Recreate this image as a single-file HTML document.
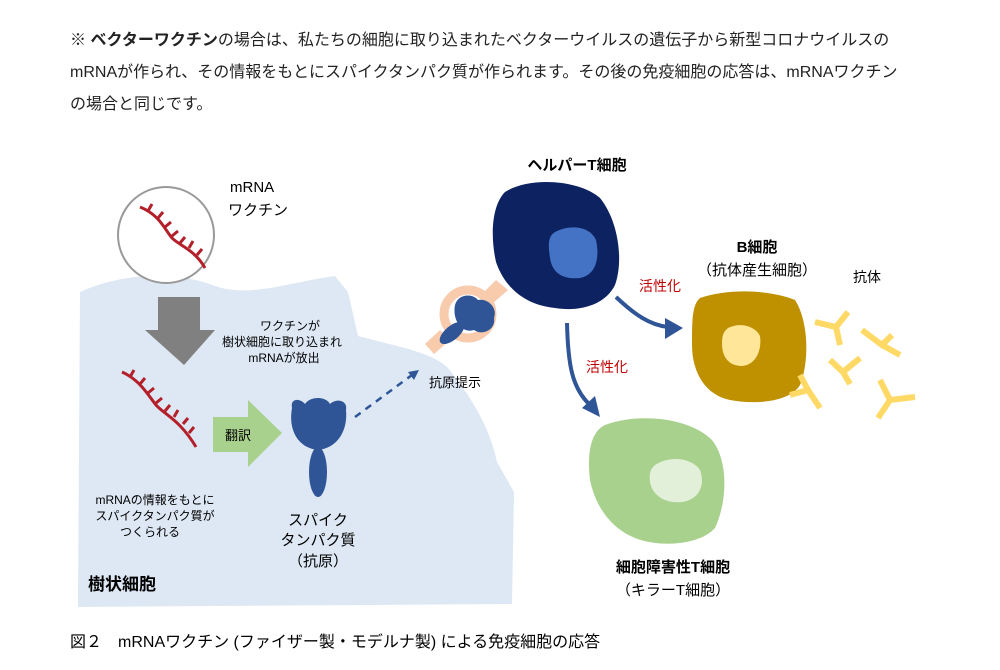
<!DOCTYPE html>
<html><head><meta charset="utf-8"><style>
body{margin:0;width:1000px;height:670px;background:#fff;position:relative;overflow:hidden;font-family:"Liberation Sans","Noto Sans CJK JP",sans-serif;color:#222}
.t{position:absolute;left:70px;font-size:16px;white-space:nowrap}
svg{position:absolute;left:0;top:0}
</style></head><body>
<div class="t" style="top:26px">※ <b>ベクターワクチン</b>の場合は、私たちの細胞に取り込まれたベクターウイルスの遺伝子から新型コロナウイルスの</div>
<div class="t" style="top:58px">mRNAが作られ、その情報をもとにスパイクタンパク質が作られます。その後の免疫細胞の応答は、mRNAワクチン</div>
<div class="t" style="top:90px">の場合と同じです。</div>
<svg width="1000" height="670" viewBox="0 0 1000 670" font-family="Liberation Sans, Noto Sans CJK JP, sans-serif">
<path d="M80,292 C115,276 170,268 215,286 C250,298 290,282 335,276 L348,292 L358,336 C395,346 432,352 448,368 C472,398 490,428 497,462 L514,492 L512,604 L78,607 Z" fill="#dde8f4"/>
<circle cx="166" cy="235" r="48" fill="#fff" stroke="#999" stroke-width="2"/>
<g stroke="#b3202a" stroke-width="3" fill="none">
<path d="M140,207 C160,215 165,230 172,238 C180,246 195,250 205,268"/>
<path d="M148,211 l4,-7 M158,218 l5,-6 M165,227 l6,-5 M172,236 l6,-5 M180,243 l5,-6 M189,248 l4,-7 M197,255 l5,-6"/>
<path d="M122,372 C140,380 148,395 156,405 C165,415 180,420 196,447"/>
<path d="M130,377 l4,-7 M140,384 l5,-6 M148,393 l6,-5 M156,403 l6,-5 M165,411 l5,-6 M174,417 l4,-7 M183,424 l5,-6 M189,433 l5,-6"/>
</g>
<text x="230" y="192" font-size="15">mRNA</text>
<text x="228" y="215" font-size="15">ワクチン</text>
<polygon points="158,297 200,297 200,330 215,330 184,365 145,330 158,330" fill="#808080"/>
<text x="290" y="330" font-size="12" text-anchor="middle">ワクチンが</text>
<text x="282" y="346" font-size="12" text-anchor="middle">樹状細胞に取り込まれ</text>
<text x="284" y="362" font-size="12" text-anchor="middle">mRNAが放出</text>
<polygon points="213,417 248,417 248,400 282,433 248,467 248,452 213,452" fill="#a9d18e"/>
<text x="238" y="440" font-size="13" text-anchor="middle">翻訳</text>
<path d="M292,408 C290,398 300,398 305,404 C310,396 326,396 330,404 C336,398 348,400 346,410 C348,430 338,448 318,450 C298,448 288,430 292,408 Z" fill="#2f5597"/>
<ellipse cx="318" cy="472" rx="9" ry="25" fill="#2f5597"/>
<path d="M355,417 L412,375" stroke="#2f5597" stroke-width="2.5" stroke-dasharray="7,6" fill="none"/>
<polygon points="419,370 408,372 414,380" fill="#2f5597"/>
<text x="155" y="504" font-size="12" text-anchor="middle">mRNAの情報をもとに</text>
<text x="155" y="520" font-size="12" text-anchor="middle">スパイクタンパク質が</text>
<text x="150" y="536" font-size="12" text-anchor="middle">つくられる</text>
<text x="318" y="525" font-size="15" text-anchor="middle">スパイク</text>
<text x="318" y="545" font-size="15" text-anchor="middle">タンパク質</text>
<text x="318" y="566" font-size="15" text-anchor="middle">（抗原）</text>
<text x="88" y="590" font-size="17" font-weight="bold">樹状細胞</text>
<!-- helper T -->
<path d="M505,192 C530,176 580,180 600,198 C618,220 624,260 615,285 C605,305 580,312 555,308 C525,305 505,288 496,262 C490,235 492,205 505,192 Z" fill="#0d2260"/>
<path d="M555,232 C570,224 590,226 596,240 C600,258 596,275 580,278 C562,280 552,272 550,258 C548,245 548,236 555,232 Z" fill="#4472c4"/>
<text x="577" y="170" font-size="15" font-weight="bold" text-anchor="middle">ヘルパーT細胞</text>
<!-- MHC -->
<g fill="#f8cbad">
<polygon points="496,280 508,290 492,304 482,294"/>
<polygon points="440,330 450,340 434,354 425,344"/>
</g>
<circle cx="468" cy="314" r="24" fill="none" stroke="#f8cbad" stroke-width="9"/>
<path d="M455,305 C458,294 472,293 478,300 C488,298 498,308 494,318 C496,330 482,336 474,330 C462,334 452,320 455,305 Z" fill="#2f5597"/>
<ellipse cx="452" cy="333" rx="7" ry="15" transform="rotate(50 452 333)" fill="#2f5597"/>
<text x="455" y="387" font-size="13" text-anchor="middle">抗原提示</text>
<!-- arrows -->
<g stroke="#2f5597" stroke-width="4" fill="none">
<path d="M616,297 C635,315 650,325 668,327"/>
<path d="M567,323 C568,365 572,388 590,405"/>
</g>
<polygon points="683,328 665,318 665,339" fill="#2f5597"/>
<polygon points="600,417 582,408 595,396" fill="#2f5597"/>
<text x="660" y="291" font-size="14" fill="#c00000" text-anchor="middle">活性化</text>
<text x="607" y="372" font-size="14" fill="#c00000" text-anchor="middle">活性化</text>
<!-- B cell -->
<path d="M700,298 C730,288 770,290 795,300 C808,320 810,360 800,385 C790,402 755,405 730,400 C705,395 692,372 692,345 C692,320 692,305 700,298 Z" fill="#bf9000"/>
<path d="M728,328 C740,322 755,326 760,336 C762,350 756,365 742,366 C728,366 722,356 722,344 C722,336 723,332 728,328 Z" fill="#ffe699"/>
<text x="757" y="252" font-size="15" font-weight="bold" text-anchor="middle">B細胞</text>
<text x="757" y="275" font-size="15" text-anchor="middle">（抗体産生細胞）</text>
<text x="867" y="282" font-size="14" text-anchor="middle">抗体</text>
<g stroke="#ffd966" stroke-width="6" fill="none">
<path d="M815,322 L836,327 L848,312 M836,327 L840,345"/>
<path d="M862,330 L882,345 L892,335 M882,345 L900,355"/>
<path d="M830,360 L843,372 L860,358 M843,372 L850,384"/>
<path d="M790,395 L808,390 L820,408 M808,390 L800,375"/>
<path d="M880,380 L890,400 L915,397 M890,400 L878,418"/>
</g>
<!-- killer T -->
<path d="M605,425 C640,412 690,418 712,440 C728,460 728,500 715,528 C700,545 660,548 635,538 C610,528 595,505 590,480 C587,455 590,432 605,425 Z" fill="#a9d18e"/>
<path d="M655,465 C670,455 692,458 700,470 C706,486 698,500 682,502 C665,504 652,495 650,482 C649,475 650,469 655,465 Z" fill="#e2f0d9"/>
<text x="673" y="572" font-size="15" font-weight="bold" text-anchor="middle">細胞障害性T細胞</text>
<text x="673" y="595" font-size="15" text-anchor="middle">（キラーT細胞）</text>
<text x="70" y="647" font-size="16">図２　mRNAワクチン (ファイザー製・モデルナ製) による免疫細胞の応答</text>
</svg>
</body></html>
